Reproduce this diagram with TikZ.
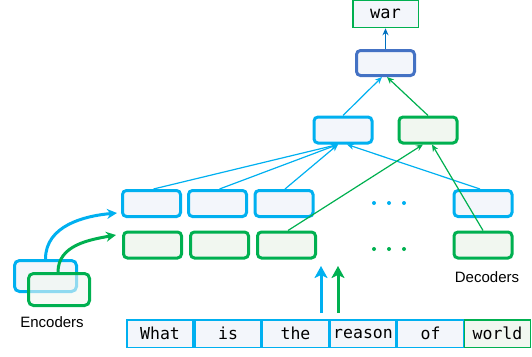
\documentclass[tikz,border=0pt]{standalone}
\usepackage{fontspec}
\setmainfont{Liberation Sans}
\newfontfamily\wordfont{DejaVu Sans Mono}
\usetikzlibrary{arrows.meta}
\definecolor{lblue}{HTML}{00B0F0}
\definecolor{lgreen}{HTML}{00B050}
\definecolor{dblue}{HTML}{4472C4}
\definecolor{arrblue}{HTML}{0070C0}
\definecolor{bfill}{HTML}{F3F6FB}
\definecolor{gfill}{HTML}{F1F7F0}
\tikzset{
  bbox/.style={draw=lblue, fill=bfill, line width=3pt, rounded corners=4pt, minimum width=58pt, minimum height=26pt, inner sep=0pt},
  gbox/.style={draw=lgreen, fill=gfill, line width=3pt, rounded corners=4pt, minimum width=58pt, minimum height=26pt, inner sep=0pt},
  cell/.style={draw=lblue, fill=bfill, line width=1.5pt, minimum width=66pt, minimum height=27.5pt, inner sep=0pt, font=\wordfont\fontsize{16.5}{18}\selectfont},
  bline/.style={draw=lblue, line width=1.2pt, -{Stealth[length=7pt,width=6pt]}},
  gline/.style={draw=lgreen, line width=1.2pt, -{Stealth[length=7pt,width=6pt]}},
  bthick/.style={draw=lblue, line width=3pt, -{Stealth[length=10pt,width=10pt]}},
  gthick/.style={draw=lgreen, line width=3pt, -{Stealth[length=10pt,width=10pt]}},
  upb/.style={draw=lblue, line width=3pt, -{Stealth[length=12pt,width=13pt,inset=3pt]}},
  upg/.style={draw=lgreen, line width=3pt, -{Stealth[length=12pt,width=13pt,inset=3pt]}},
  lab/.style={font=\fontsize{15}{17}\selectfont, inner sep=0pt},
  dot/.style={circle, inner sep=0pt, minimum size=4pt}
}
\begin{document}
\begin{tikzpicture}[x=1pt,y=-1pt]
\useasboundingbox (0,0) rectangle (532,356);
% output
\node[draw=lgreen, fill=bfill, line width=1.5pt, minimum width=65.5pt, minimum height=27pt, inner sep=0pt, font=\wordfont\fontsize{17}{18}\selectfont] (war) at (385.5,14) {war};
\node[draw=dblue, fill=bfill, line width=3pt, rounded corners=4pt, minimum width=58pt, minimum height=25pt, inner sep=0pt] (top) at (385.5,63) {};
% middle
\node[bbox] (mb) at (343,130) {};
\node[gbox] (mg) at (428,130) {};
% rows
\node[bbox] (b1) at (151.5,203.5) {};
\node[bbox] (b2) at (217.5,203.5) {};
\node[bbox] (b3) at (284,203.5) {};
\node[bbox] (b4) at (483,203.5) {};
\node[gbox] (g1) at (152.5,245) {};
\node[gbox] (g2) at (219.5,245) {};
\node[gbox] (g3) at (286.5,245) {};
\node[gbox] (g4) at (483,245) {};
% dots
\foreach \x/\n in {374/1,389/2,404/3}{
  \node[dot, fill=lblue] (bd\n) at (\x,203) {};
  \node[dot, fill=lgreen] (gd\n) at (\x,249) {};
}
% encoders
\node[draw=lblue, fill=bfill, line width=3pt, rounded corners=5pt, minimum width=62pt, minimum height=31pt, inner sep=0pt] (eb) at (45.5,276) {};
\node[draw=lgreen, fill=gfill, fill opacity=0.6, line width=3pt, rounded corners=5pt, minimum width=61pt, minimum height=32pt, inner sep=0pt] (eg) at (59,289.5) {};
\node[lab] (enc) at (52,322) {Encoders};
\node[lab] (dec) at (487,277) {Decoders};
% words
\node[cell] (w1) at (160,333.5) {What};
\node[cell] (w2) at (228,333.5) {is};
\node[cell] (w3) at (295.5,333.5) {the};
\node[cell] (w4) at (363,333.5) {reason};
\node[cell] (w5) at (430.5,333.5) {of};
\node[cell, draw=lgreen, fill=gfill] (w6) at (497.5,333.5) {world};
% connectors
\draw[bline] ([xshift=2pt]b1.north) -- ([xshift=-5pt]mb.south);
\draw[bline] ([xshift=2pt]b2.north) -- ([xshift=-5pt]mb.south);
\draw[bline] ([xshift=1pt]b3.north) -- ([xshift=-5pt]mb.south);
\draw[bline] ([xshift=-3pt]b4.north) -- ([xshift=4pt]mb.south);
\draw[gline] ([xshift=1.5pt]g3.north) -- ([xshift=-5pt]mg.south);
\draw[gline] (g4.north) -- ([xshift=4pt]mg.south);
\draw[bline] (mb.north) -- ([xshift=-3.5pt]top.south);
\draw[gline] (mg.north) -- ([xshift=1.5pt]top.south);
\draw[draw=arrblue, line width=1.2pt, -{Stealth[length=7pt,width=6pt]}] (top.north) -- (war.south);
% encoder arrows
\draw[bthick] (eb.north) to[out=90,in=185] ([xshift=-4pt,yshift=-9.5pt]b1.west);
\draw[gthick] ([xshift=-1pt]eg.north) to[out=90,in=190] ([xshift=-6pt,yshift=10pt]g1.west);
% input arrows
\coordinate (ub0) at (321,313);
\coordinate (ub1) at (321,266);
\coordinate (ug0) at (338,313);
\coordinate (ug1) at (338,266);
\draw[upb] (ub0) -- (ub1);
\draw[upg] (ug0) -- (ug1);
\end{tikzpicture}
\end{document}
